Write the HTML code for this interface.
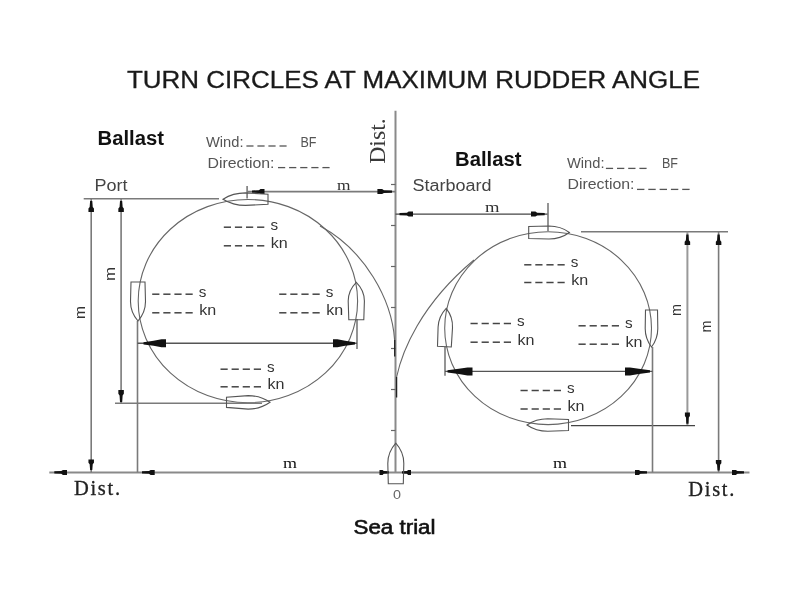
<!DOCTYPE html><html><head><meta charset="utf-8"><style>html,body{margin:0;padding:0;background:#fff}svg{display:block}</style></head><body>
<svg width="800" height="600" viewBox="0 0 800 600" style="will-change:transform">
<rect width="800" height="600" fill="#fff"/>
<text x="127" y="88" font-family="Liberation Sans" font-size="23" font-weight="normal" fill="#1a1a1a" textLength="573" lengthAdjust="spacingAndGlyphs" stroke="#1a1a1a" stroke-width="0.3">TURN CIRCLES AT MAXIMUM RUDDER ANGLE</text>
<text x="97.5" y="145" font-family="Liberation Sans" font-size="20" font-weight="bold" fill="#111" textLength="66.5" lengthAdjust="spacingAndGlyphs" >Ballast</text>
<text x="206" y="146.6" font-family="Liberation Sans" font-size="14.5" font-weight="normal" fill="#555" textLength="37.5" lengthAdjust="spacingAndGlyphs" >Wind:</text>
<line x1="246.4" y1="146" x2="253.5" y2="146" stroke="#555" stroke-width="1.3"/>
<line x1="257.4" y1="146" x2="264.6" y2="146" stroke="#555" stroke-width="1.3"/>
<line x1="268.4" y1="146" x2="275.6" y2="146" stroke="#555" stroke-width="1.3"/>
<line x1="279.5" y1="146" x2="286.6" y2="146" stroke="#555" stroke-width="1.3"/>
<text x="300.5" y="146.6" font-family="Liberation Sans" font-size="14.5" font-weight="normal" fill="#555" textLength="16" lengthAdjust="spacingAndGlyphs" >BF</text>
<text x="207.5" y="167.6" font-family="Liberation Sans" font-size="14.5" font-weight="normal" fill="#555" textLength="67" lengthAdjust="spacingAndGlyphs" >Direction:</text>
<line x1="278.0" y1="167.6" x2="285.2" y2="167.6" stroke="#555" stroke-width="1.3"/>
<line x1="289.1" y1="167.6" x2="296.3" y2="167.6" stroke="#555" stroke-width="1.3"/>
<line x1="300.2" y1="167.6" x2="307.4" y2="167.6" stroke="#555" stroke-width="1.3"/>
<line x1="311.3" y1="167.6" x2="318.5" y2="167.6" stroke="#555" stroke-width="1.3"/>
<line x1="322.4" y1="167.6" x2="329.6" y2="167.6" stroke="#555" stroke-width="1.3"/>
<text x="455" y="165.5" font-family="Liberation Sans" font-size="20" font-weight="bold" fill="#111" textLength="66.5" lengthAdjust="spacingAndGlyphs" >Ballast</text>
<text x="567" y="168.4" font-family="Liberation Sans" font-size="14.5" font-weight="normal" fill="#555" textLength="37.5" lengthAdjust="spacingAndGlyphs" >Wind:</text>
<line x1="605.9" y1="168.4" x2="613.1" y2="168.4" stroke="#555" stroke-width="1.3"/>
<line x1="617.0" y1="168.4" x2="624.3" y2="168.4" stroke="#555" stroke-width="1.3"/>
<line x1="628.2" y1="168.4" x2="635.5" y2="168.4" stroke="#555" stroke-width="1.3"/>
<line x1="639.4" y1="168.4" x2="646.6" y2="168.4" stroke="#555" stroke-width="1.3"/>
<text x="662" y="168.4" font-family="Liberation Sans" font-size="14.5" font-weight="normal" fill="#555" textLength="16" lengthAdjust="spacingAndGlyphs" >BF</text>
<text x="567.5" y="189.4" font-family="Liberation Sans" font-size="14.5" font-weight="normal" fill="#555" textLength="67" lengthAdjust="spacingAndGlyphs" >Direction:</text>
<line x1="637.0" y1="189.4" x2="644.4" y2="189.4" stroke="#555" stroke-width="1.3"/>
<line x1="648.3" y1="189.4" x2="655.7" y2="189.4" stroke="#555" stroke-width="1.3"/>
<line x1="659.6" y1="189.4" x2="667.0" y2="189.4" stroke="#555" stroke-width="1.3"/>
<line x1="670.9" y1="189.4" x2="678.3" y2="189.4" stroke="#555" stroke-width="1.3"/>
<line x1="682.2" y1="189.4" x2="689.6" y2="189.4" stroke="#555" stroke-width="1.3"/>
<text x="94.5" y="191.2" font-family="Liberation Sans" font-size="16" font-weight="normal" fill="#444" textLength="33" lengthAdjust="spacingAndGlyphs" >Port</text>
<text x="412.5" y="191.4" font-family="Liberation Sans" font-size="16" font-weight="normal" fill="#444" textLength="79" lengthAdjust="spacingAndGlyphs" >Starboard</text>
<text x="385.3" y="163.8" font-family="Liberation Serif" font-size="23" font-weight="normal" fill="#3a3a3a" textLength="45.5" lengthAdjust="spacingAndGlyphs" transform="rotate(-90 385.3 163.8)" >Dist.</text>
<line x1="395.5" y1="110.8" x2="395.5" y2="472.4" stroke="#8a8a8a" stroke-width="2" />
<line x1="49.3" y1="472.4" x2="749.5" y2="472.4" stroke="#8a8a8a" stroke-width="2" />
<path d="M54.30,473.50 L61.28,473.80 L62.94,474.90 L67.00,474.90 L67.00,469.90 L62.94,469.90 L61.28,471.00 L54.30,471.30Z" fill="#111"/>
<path d="M744.00,471.30 L737.40,471.00 L735.84,469.90 L732.00,469.90 L732.00,474.90 L735.84,474.90 L737.40,473.80 L744.00,473.50Z" fill="#111"/>
<line x1="391" y1="184.5" x2="395.5" y2="184.5" stroke="#666" stroke-width="1.2" />
<line x1="391" y1="225.5" x2="395.5" y2="225.5" stroke="#666" stroke-width="1.2" />
<line x1="391" y1="266.5" x2="395.5" y2="266.5" stroke="#666" stroke-width="1.2" />
<line x1="391" y1="307.5" x2="395.5" y2="307.5" stroke="#666" stroke-width="1.2" />
<line x1="391" y1="348.5" x2="395.5" y2="348.5" stroke="#666" stroke-width="1.2" />
<line x1="391" y1="389.5" x2="395.5" y2="389.5" stroke="#666" stroke-width="1.2" />
<line x1="391" y1="430.5" x2="395.5" y2="430.5" stroke="#666" stroke-width="1.2" />
<ellipse cx="247.9" cy="301.1" rx="109.7" ry="101.6" fill="none" stroke="#666" stroke-width="1.1"/>
<path d="M394.6,340 C392,300 365,250 320,226" fill="none" stroke="#666" stroke-width="1.1"/>
<line x1="394.7" y1="340" x2="394.7" y2="356.5" stroke="#222" stroke-width="1.3" />
<line x1="83.7" y1="198.7" x2="219" y2="198.7" stroke="#7a7a7a" stroke-width="1.6" />
<line x1="91.2" y1="198.7" x2="91.2" y2="472.4" stroke="#7a7a7a" stroke-width="1.6" />
<path d="M90.10,201.00 L89.66,207.05 L88.45,208.48 L88.45,212.00 L93.95,212.00 L93.95,208.48 L92.74,207.05 L92.30,201.00Z" fill="#111"/>
<path d="M92.30,470.00 L92.74,464.23 L93.95,462.86 L93.95,459.50 L88.45,459.50 L88.45,462.86 L89.66,464.23 L90.10,470.00Z" fill="#111"/>
<line x1="121.1" y1="198.7" x2="121.1" y2="403.2" stroke="#7a7a7a" stroke-width="1.6" />
<path d="M120.00,201.00 L119.56,207.05 L118.35,208.48 L118.35,212.00 L123.85,212.00 L123.85,208.48 L122.64,207.05 L122.20,201.00Z" fill="#111"/>
<path d="M122.20,402.00 L122.64,395.40 L123.85,393.84 L123.85,390.00 L118.35,390.00 L118.35,393.84 L119.56,395.40 L120.00,402.00Z" fill="#111"/>
<line x1="115" y1="403.2" x2="262" y2="403.2" stroke="#7a7a7a" stroke-width="1.6" />
<line x1="137.5" y1="321" x2="137.5" y2="472.4" stroke="#7a7a7a" stroke-width="1.6" />
<line x1="357" y1="319" x2="357" y2="349" stroke="#7a7a7a" stroke-width="1.6" />
<line x1="137.5" y1="343.3" x2="357" y2="343.3" stroke="#555" stroke-width="1.4" />
<path d="M143.50,344.40 L153.62,345.86 L161.50,347.30 L166.00,347.30 L166.00,339.30 L161.50,339.30 L153.62,340.74 L143.50,342.20Z" fill="#111"/>
<path d="M355.00,342.20 L345.10,340.74 L337.40,339.30 L333.00,339.30 L333.00,347.30 L337.40,347.30 L345.10,345.86 L355.00,344.40Z" fill="#111"/>
<line x1="247.1" y1="186" x2="247.1" y2="198.6" stroke="#7a7a7a" stroke-width="1.6" />
<line x1="247.1" y1="191.6" x2="395.5" y2="191.6" stroke="#7a7a7a" stroke-width="1.6" />
<path d="M252.00,192.70 L258.88,193.00 L260.50,194.10 L264.50,194.10 L264.50,189.10 L260.50,189.10 L258.88,190.20 L252.00,190.50Z" fill="#111"/>
<path d="M392.00,190.50 L383.97,190.20 L382.07,189.10 L377.40,189.10 L377.40,194.10 L382.07,194.10 L383.97,193.00 L392.00,192.70Z" fill="#111"/>
<text x="337" y="190" font-family="Liberation Serif" font-size="15" font-weight="normal" fill="#333" textLength="13.5" lengthAdjust="spacingAndGlyphs" >m</text>
<path d="M142.00,473.50 L148.98,473.80 L150.64,474.90 L154.70,474.90 L154.70,469.90 L150.64,469.90 L148.98,471.00 L142.00,471.30Z" fill="#111"/>
<path d="M389.00,471.30 L383.77,471.00 L382.54,469.90 L379.50,469.90 L379.50,474.90 L382.54,474.90 L383.77,473.80 L389.00,473.50Z" fill="#111"/>
<text x="283" y="468.3" font-family="Liberation Serif" font-size="15" font-weight="normal" fill="#111" textLength="14" lengthAdjust="spacingAndGlyphs" >m</text>
<text x="115.2" y="281" font-family="Liberation Sans" font-size="15" font-weight="normal" fill="#333" textLength="14" lengthAdjust="spacingAndGlyphs" transform="rotate(-90 115.2 281)" >m</text>
<text x="85" y="319" font-family="Liberation Sans" font-size="15" font-weight="normal" fill="#333" textLength="13" lengthAdjust="spacingAndGlyphs" transform="rotate(-90 85 319)" >m</text>
<path d="M223.0,199.2 C228.4,195.8 236.5,192.9 245.5,192.9 L268.0,194.2 L268.0,204.2 L245.5,205.4 C236.5,205.4 228.4,202.6 223.0,199.2Z" fill="none" stroke="#555" stroke-width="1.1"/>
<path d="M138.0,321.0 C133.9,316.3 130.5,309.3 130.5,301.5 L131.0,282.0 L145.0,282.0 L145.5,301.5 C145.5,309.3 142.1,316.3 138.0,321.0Z" fill="none" stroke="#555" stroke-width="1.1"/>
<path d="M270.0,402.3 C264.8,406.0 256.9,409.1 248.2,409.1 L226.5,407.4 L226.5,397.2 L248.2,395.6 C256.9,395.6 264.8,398.6 270.0,402.3Z" fill="none" stroke="#555" stroke-width="1.1"/>
<path d="M356.3,282.3 C360.8,286.8 364.4,293.5 364.4,301.0 L363.8,319.7 L348.8,319.7 L348.2,301.0 C348.2,293.5 351.8,286.8 356.3,282.3Z" fill="none" stroke="#555" stroke-width="1.1"/>
<line x1="223.8" y1="227.2" x2="231.0" y2="227.2" stroke="#444" stroke-width="1.5"/>
<line x1="234.9" y1="227.2" x2="242.1" y2="227.2" stroke="#444" stroke-width="1.5"/>
<line x1="246.0" y1="227.2" x2="253.2" y2="227.2" stroke="#444" stroke-width="1.5"/>
<line x1="257.1" y1="227.2" x2="264.3" y2="227.2" stroke="#444" stroke-width="1.5"/>
<line x1="223.8" y1="245.8" x2="231.0" y2="245.8" stroke="#444" stroke-width="1.5"/>
<line x1="234.9" y1="245.8" x2="242.1" y2="245.8" stroke="#444" stroke-width="1.5"/>
<line x1="246.0" y1="245.8" x2="253.2" y2="245.8" stroke="#444" stroke-width="1.5"/>
<line x1="257.1" y1="245.8" x2="264.3" y2="245.8" stroke="#444" stroke-width="1.5"/>
<text x="270.40000000000003" y="229.5" font-family="Liberation Sans" font-size="14" font-weight="normal" fill="#333" textLength="7.6" lengthAdjust="spacingAndGlyphs" >s</text>
<text x="270.8" y="248.10000000000002" font-family="Liberation Sans" font-size="14" font-weight="normal" fill="#333" textLength="17" lengthAdjust="spacingAndGlyphs" >kn</text>
<line x1="152.2" y1="294.2" x2="159.4" y2="294.2" stroke="#444" stroke-width="1.5"/>
<line x1="163.3" y1="294.2" x2="170.5" y2="294.2" stroke="#444" stroke-width="1.5"/>
<line x1="174.4" y1="294.2" x2="181.6" y2="294.2" stroke="#444" stroke-width="1.5"/>
<line x1="185.5" y1="294.2" x2="192.7" y2="294.2" stroke="#444" stroke-width="1.5"/>
<line x1="152.2" y1="312.8" x2="159.4" y2="312.8" stroke="#444" stroke-width="1.5"/>
<line x1="163.3" y1="312.8" x2="170.5" y2="312.8" stroke="#444" stroke-width="1.5"/>
<line x1="174.4" y1="312.8" x2="181.6" y2="312.8" stroke="#444" stroke-width="1.5"/>
<line x1="185.5" y1="312.8" x2="192.7" y2="312.8" stroke="#444" stroke-width="1.5"/>
<text x="198.79999999999998" y="296.5" font-family="Liberation Sans" font-size="14" font-weight="normal" fill="#333" textLength="7.6" lengthAdjust="spacingAndGlyphs" >s</text>
<text x="199.2" y="315.1" font-family="Liberation Sans" font-size="14" font-weight="normal" fill="#333" textLength="17" lengthAdjust="spacingAndGlyphs" >kn</text>
<line x1="279.2" y1="294.2" x2="286.4" y2="294.2" stroke="#444" stroke-width="1.5"/>
<line x1="290.3" y1="294.2" x2="297.5" y2="294.2" stroke="#444" stroke-width="1.5"/>
<line x1="301.4" y1="294.2" x2="308.6" y2="294.2" stroke="#444" stroke-width="1.5"/>
<line x1="312.5" y1="294.2" x2="319.7" y2="294.2" stroke="#444" stroke-width="1.5"/>
<line x1="279.2" y1="312.8" x2="286.4" y2="312.8" stroke="#444" stroke-width="1.5"/>
<line x1="290.3" y1="312.8" x2="297.5" y2="312.8" stroke="#444" stroke-width="1.5"/>
<line x1="301.4" y1="312.8" x2="308.6" y2="312.8" stroke="#444" stroke-width="1.5"/>
<line x1="312.5" y1="312.8" x2="319.7" y2="312.8" stroke="#444" stroke-width="1.5"/>
<text x="325.8" y="296.5" font-family="Liberation Sans" font-size="14" font-weight="normal" fill="#333" textLength="7.6" lengthAdjust="spacingAndGlyphs" >s</text>
<text x="326.2" y="315.1" font-family="Liberation Sans" font-size="14" font-weight="normal" fill="#333" textLength="17" lengthAdjust="spacingAndGlyphs" >kn</text>
<line x1="220.5" y1="369.2" x2="227.7" y2="369.2" stroke="#444" stroke-width="1.5"/>
<line x1="231.6" y1="369.2" x2="238.8" y2="369.2" stroke="#444" stroke-width="1.5"/>
<line x1="242.7" y1="369.2" x2="249.9" y2="369.2" stroke="#444" stroke-width="1.5"/>
<line x1="253.8" y1="369.2" x2="261.0" y2="369.2" stroke="#444" stroke-width="1.5"/>
<line x1="220.5" y1="386.8" x2="227.7" y2="386.8" stroke="#444" stroke-width="1.5"/>
<line x1="231.6" y1="386.8" x2="238.8" y2="386.8" stroke="#444" stroke-width="1.5"/>
<line x1="242.7" y1="386.8" x2="249.9" y2="386.8" stroke="#444" stroke-width="1.5"/>
<line x1="253.8" y1="386.8" x2="261.0" y2="386.8" stroke="#444" stroke-width="1.5"/>
<text x="267.1" y="371.5" font-family="Liberation Sans" font-size="14" font-weight="normal" fill="#333" textLength="7.6" lengthAdjust="spacingAndGlyphs" >s</text>
<text x="267.5" y="389.1" font-family="Liberation Sans" font-size="14" font-weight="normal" fill="#333" textLength="17" lengthAdjust="spacingAndGlyphs" >kn</text>
<ellipse cx="548.1" cy="328.2" rx="103.4" ry="96.4" fill="none" stroke="#666" stroke-width="1.1"/>
<path d="M396.6,377 C402,352 420,305 474,260" fill="none" stroke="#666" stroke-width="1.1"/>
<line x1="396.6" y1="377" x2="396.6" y2="397.5" stroke="#222" stroke-width="1.3" />
<line x1="395.5" y1="214.1" x2="548" y2="214.1" stroke="#444" stroke-width="1.4" />
<path d="M399.50,215.20 L406.93,215.50 L408.68,216.60 L413.00,216.60 L413.00,211.60 L408.68,211.60 L406.93,212.70 L399.50,213.00Z" fill="#111"/>
<path d="M544.70,213.00 L537.16,212.70 L535.38,211.60 L531.00,211.60 L531.00,216.60 L535.38,216.60 L537.16,215.50 L544.70,215.20Z" fill="#111"/>
<line x1="548" y1="203" x2="548" y2="231" stroke="#7a7a7a" stroke-width="1.6" />
<text x="485" y="212" font-family="Liberation Serif" font-size="15" font-weight="normal" fill="#333" textLength="14.5" lengthAdjust="spacingAndGlyphs" >m</text>
<line x1="581" y1="231.7" x2="728" y2="231.7" stroke="#7a7a7a" stroke-width="1.6" />
<line x1="687.4" y1="231.7" x2="687.4" y2="425.6" stroke="#999" stroke-width="2" />
<path d="M686.30,234.50 L685.86,240.28 L684.65,241.64 L684.65,245.00 L690.15,245.00 L690.15,241.64 L688.94,240.28 L688.50,234.50Z" fill="#111"/>
<path d="M688.50,423.70 L688.80,417.54 L689.90,416.08 L689.90,412.50 L684.90,412.50 L684.90,416.08 L686.00,417.54 L686.30,423.70Z" fill="#111"/>
<line x1="718.6" y1="231.7" x2="718.6" y2="472.4" stroke="#7a7a7a" stroke-width="1.6" />
<path d="M717.50,234.50 L717.06,240.28 L715.85,241.64 L715.85,245.00 L721.35,245.00 L721.35,241.64 L720.14,240.28 L719.70,234.50Z" fill="#111"/>
<path d="M719.70,470.50 L720.14,464.73 L721.35,463.36 L721.35,460.00 L715.85,460.00 L715.85,463.36 L717.06,464.73 L717.50,470.50Z" fill="#111"/>
<line x1="571" y1="425.6" x2="695" y2="425.6" stroke="#444" stroke-width="1.4" />
<line x1="652.5" y1="347" x2="652.5" y2="472.4" stroke="#7a7a7a" stroke-width="1.6" />
<line x1="445" y1="346.7" x2="445" y2="375.8" stroke="#7a7a7a" stroke-width="1.6" />
<line x1="445" y1="371.4" x2="652.5" y2="371.4" stroke="#555" stroke-width="1.4" />
<path d="M447.50,372.50 L458.75,373.96 L467.50,375.40 L472.50,375.40 L472.50,367.40 L467.50,367.40 L458.75,368.84 L447.50,370.30Z" fill="#111"/>
<path d="M650.00,370.30 L638.75,368.84 L630.00,367.40 L625.00,367.40 L625.00,375.40 L630.00,375.40 L638.75,373.96 L650.00,372.50Z" fill="#111"/>
<path d="M402.00,473.50 L406.95,473.80 L408.12,474.90 L411.00,474.90 L411.00,469.90 L408.12,469.90 L406.95,471.00 L402.00,471.30Z" fill="#111"/>
<path d="M647.00,471.30 L640.40,471.00 L638.84,469.90 L635.00,469.90 L635.00,474.90 L638.84,474.90 L640.40,473.80 L647.00,473.50Z" fill="#111"/>
<text x="553" y="468.3" font-family="Liberation Serif" font-size="15" font-weight="normal" fill="#111" textLength="14" lengthAdjust="spacingAndGlyphs" >m</text>
<text x="681" y="316" font-family="Liberation Sans" font-size="15" font-weight="normal" fill="#333" textLength="12" lengthAdjust="spacingAndGlyphs" transform="rotate(-90 681 316)" >m</text>
<text x="711" y="332.5" font-family="Liberation Sans" font-size="15" font-weight="normal" fill="#333" textLength="12" lengthAdjust="spacingAndGlyphs" transform="rotate(-90 711 332.5)" >m</text>
<path d="M569.4,232.5 C564.5,236.1 557.2,239.0 549.0,239.0 L528.7,238.5 L528.7,226.5 L549.0,226.0 C557.2,226.0 564.5,228.9 569.4,232.5Z" fill="none" stroke="#555" stroke-width="1.1"/>
<path d="M446.2,308.3 C450.0,313.1 452.9,320.1 452.5,327.8 L451.3,347.0 L437.5,346.3 L438.1,327.1 C438.4,319.5 442.0,312.7 446.2,308.3Z" fill="none" stroke="#555" stroke-width="1.1"/>
<path d="M527.0,425.0 C532.0,421.5 539.5,418.7 547.8,418.7 L568.5,419.5 L568.5,430.5 L547.8,431.3 C539.5,431.3 532.0,428.5 527.0,425.0Z" fill="none" stroke="#555" stroke-width="1.1"/>
<path d="M651.5,347.0 C648.1,342.6 645.2,335.9 645.2,328.5 L645.5,310.0 L657.5,310.0 L657.8,328.5 C657.8,335.9 654.9,342.6 651.5,347.0Z" fill="none" stroke="#555" stroke-width="1.1"/>
<line x1="524.2" y1="264.8" x2="531.4" y2="264.8" stroke="#444" stroke-width="1.5"/>
<line x1="535.3" y1="264.8" x2="542.5" y2="264.8" stroke="#444" stroke-width="1.5"/>
<line x1="546.4" y1="264.8" x2="553.6" y2="264.8" stroke="#444" stroke-width="1.5"/>
<line x1="557.5" y1="264.8" x2="564.7" y2="264.8" stroke="#444" stroke-width="1.5"/>
<line x1="524.2" y1="282.5" x2="531.4" y2="282.5" stroke="#444" stroke-width="1.5"/>
<line x1="535.3" y1="282.5" x2="542.5" y2="282.5" stroke="#444" stroke-width="1.5"/>
<line x1="546.4" y1="282.5" x2="553.6" y2="282.5" stroke="#444" stroke-width="1.5"/>
<line x1="557.5" y1="282.5" x2="564.7" y2="282.5" stroke="#444" stroke-width="1.5"/>
<text x="570.8000000000001" y="267.1" font-family="Liberation Sans" font-size="14" font-weight="normal" fill="#333" textLength="7.6" lengthAdjust="spacingAndGlyphs" >s</text>
<text x="571.2" y="284.8" font-family="Liberation Sans" font-size="14" font-weight="normal" fill="#333" textLength="17" lengthAdjust="spacingAndGlyphs" >kn</text>
<line x1="470.5" y1="323.5" x2="477.7" y2="323.5" stroke="#444" stroke-width="1.5"/>
<line x1="481.6" y1="323.5" x2="488.8" y2="323.5" stroke="#444" stroke-width="1.5"/>
<line x1="492.7" y1="323.5" x2="499.9" y2="323.5" stroke="#444" stroke-width="1.5"/>
<line x1="503.8" y1="323.5" x2="511.0" y2="323.5" stroke="#444" stroke-width="1.5"/>
<line x1="470.5" y1="342.2" x2="477.7" y2="342.2" stroke="#444" stroke-width="1.5"/>
<line x1="481.6" y1="342.2" x2="488.8" y2="342.2" stroke="#444" stroke-width="1.5"/>
<line x1="492.7" y1="342.2" x2="499.9" y2="342.2" stroke="#444" stroke-width="1.5"/>
<line x1="503.8" y1="342.2" x2="511.0" y2="342.2" stroke="#444" stroke-width="1.5"/>
<text x="517.1" y="325.8" font-family="Liberation Sans" font-size="14" font-weight="normal" fill="#333" textLength="7.6" lengthAdjust="spacingAndGlyphs" >s</text>
<text x="517.5" y="344.5" font-family="Liberation Sans" font-size="14" font-weight="normal" fill="#333" textLength="17" lengthAdjust="spacingAndGlyphs" >kn</text>
<line x1="578.5" y1="325.8" x2="585.7" y2="325.8" stroke="#444" stroke-width="1.5"/>
<line x1="589.6" y1="325.8" x2="596.8" y2="325.8" stroke="#444" stroke-width="1.5"/>
<line x1="600.7" y1="325.8" x2="607.9" y2="325.8" stroke="#444" stroke-width="1.5"/>
<line x1="611.8" y1="325.8" x2="619.0" y2="325.8" stroke="#444" stroke-width="1.5"/>
<line x1="578.5" y1="344.2" x2="585.7" y2="344.2" stroke="#444" stroke-width="1.5"/>
<line x1="589.6" y1="344.2" x2="596.8" y2="344.2" stroke="#444" stroke-width="1.5"/>
<line x1="600.7" y1="344.2" x2="607.9" y2="344.2" stroke="#444" stroke-width="1.5"/>
<line x1="611.8" y1="344.2" x2="619.0" y2="344.2" stroke="#444" stroke-width="1.5"/>
<text x="625.1" y="328.1" font-family="Liberation Sans" font-size="14" font-weight="normal" fill="#333" textLength="7.6" lengthAdjust="spacingAndGlyphs" >s</text>
<text x="625.5" y="346.5" font-family="Liberation Sans" font-size="14" font-weight="normal" fill="#333" textLength="17" lengthAdjust="spacingAndGlyphs" >kn</text>
<line x1="520.5" y1="390.5" x2="527.7" y2="390.5" stroke="#444" stroke-width="1.5"/>
<line x1="531.6" y1="390.5" x2="538.8" y2="390.5" stroke="#444" stroke-width="1.5"/>
<line x1="542.7" y1="390.5" x2="549.9" y2="390.5" stroke="#444" stroke-width="1.5"/>
<line x1="553.8" y1="390.5" x2="561.0" y2="390.5" stroke="#444" stroke-width="1.5"/>
<line x1="520.5" y1="409" x2="527.7" y2="409" stroke="#444" stroke-width="1.5"/>
<line x1="531.6" y1="409" x2="538.8" y2="409" stroke="#444" stroke-width="1.5"/>
<line x1="542.7" y1="409" x2="549.9" y2="409" stroke="#444" stroke-width="1.5"/>
<line x1="553.8" y1="409" x2="561.0" y2="409" stroke="#444" stroke-width="1.5"/>
<text x="567.1" y="392.8" font-family="Liberation Sans" font-size="14" font-weight="normal" fill="#333" textLength="7.6" lengthAdjust="spacingAndGlyphs" >s</text>
<text x="567.5" y="411.3" font-family="Liberation Sans" font-size="14" font-weight="normal" fill="#333" textLength="17" lengthAdjust="spacingAndGlyphs" >kn</text>
<path d="M395.8,443.2 C400.2,448.1 403.8,455.3 403.8,463.4 L403.3,483.7 L388.3,483.7 L387.8,463.4 C387.8,455.3 391.4,448.1 395.8,443.2Z" fill="none" stroke="#555" stroke-width="1.1"/>
<text x="393" y="498.7" font-family="Liberation Sans" font-size="13" font-weight="normal" fill="#666" textLength="8" lengthAdjust="spacingAndGlyphs" >0</text>
<text x="74" y="495" font-family="Liberation Serif" font-size="20.5" font-weight="normal" fill="#222" textLength="46" lengthAdjust="spacing" stroke="#222" stroke-width="0.3">Dist.</text>
<text x="688.3" y="495.5" font-family="Liberation Serif" font-size="20.5" font-weight="normal" fill="#222" textLength="46" lengthAdjust="spacing" stroke="#222" stroke-width="0.3">Dist.</text>
<text x="353.5" y="533.5" font-family="Liberation Sans" font-size="20" font-weight="normal" fill="#111" textLength="82" lengthAdjust="spacingAndGlyphs" stroke="#111" stroke-width="0.6">Sea trial</text>
</svg></body></html>
